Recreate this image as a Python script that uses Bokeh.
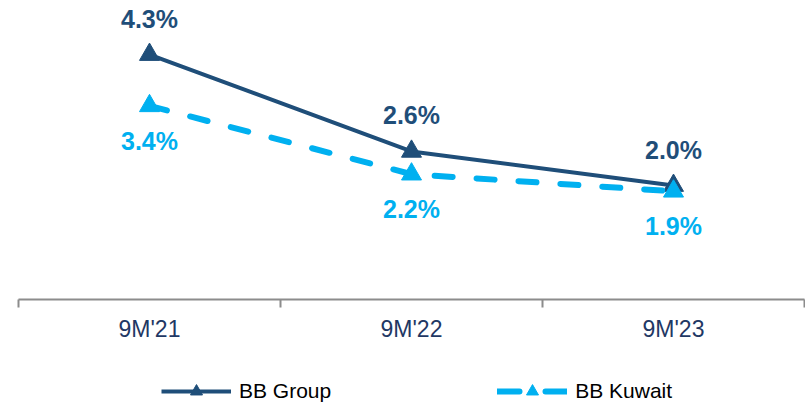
from bokeh.plotting import figure
from bokeh.layouts import column
from bokeh.models import (Range1d, FixedTicker, Legend, LegendItem, ColumnDataSource)
from bokeh.core.properties import value
from bokeh.embed import file_html
from bokeh.resources import INLINE

# Data
categories = ["9M'21", "9M'22", "9M'23"]
bb_group = [4.3, 2.6, 2.0]
bb_kuwait = [3.4, 2.2, 1.9]
series_names = ["BB Group", "BB Kuwait"]

DARK = "#1F4E79"
LIGHT = "#00B0F0"
AXIS_GREY = "#8C8C8C"
FONT = "Liberation Sans"
DASH = "18 24"

# category centres on a 0..N numeric scale, boundaries at integers
xs = [i + 0.5 for i in range(len(categories))]

p = figure(width=805, height=345, output_backend="svg", toolbar_location=None,
           x_range=Range1d(0, len(categories)), y_range=Range1d(0, 5.25),
           y_axis_location=None, min_border_left=18, min_border_right=1,
           min_border_top=0, min_border_bottom=46)
p.outline_line_color = None
p.xgrid.visible = False
p.ygrid.visible = False
p.background_fill_color = "white"
p.border_fill_color = "white"

src_g = ColumnDataSource(dict(x=xs, y=bb_group, lbl=[f"{v:.1f}%" for v in bb_group]))
src_k = ColumnDataSource(dict(x=xs, y=bb_kuwait, lbl=[f"{v:.1f}%" for v in bb_kuwait]))

# BB Group: solid line with triangles
p.line("x", "y", source=src_g, line_color=DARK, line_width=4)
p.scatter("x", "y", source=src_g, marker="triangle", size=20,
          fill_color=DARK, line_color=DARK)

# BB Kuwait: dashed line with triangles
p.line("x", "y", source=src_k, line_color=LIGHT, line_width=6,
       line_dash=DASH, line_cap="round")
p.scatter("x", "y", source=src_k, marker="triangle", size=20,
          fill_color=LIGHT, line_color=LIGHT)

# value labels
p.text("x", "y", text="lbl", source=src_g, text_align="center",
       text_baseline="middle", y_offset=-36, text_color=DARK,
       text_font=value(FONT), text_font_style="bold", text_font_size="25px")
p.text("x", "y", text="lbl", source=src_k, text_align="center",
       text_baseline="middle", y_offset=35, text_color=LIGHT,
       text_font=value(FONT), text_font_style="bold", text_font_size="25px")

# x axis: labels at category centres, tick marks at category boundaries
ax = p.xaxis[0]
ax.ticker = FixedTicker(ticks=xs, minor_ticks=list(range(len(categories) + 1)))
ax.major_label_overrides = {x: c for x, c in zip(xs, categories)}
ax.major_tick_line_color = None
ax.major_tick_out = 8
ax.major_tick_in = 0
ax.minor_tick_out = 8
ax.minor_tick_in = 0
ax.minor_tick_line_color = AXIS_GREY
ax.minor_tick_line_width = 2
ax.axis_line_color = AXIS_GREY
ax.axis_line_width = 2
ax.major_label_standoff = 8
ax.major_label_text_font = FONT
ax.major_label_text_font_size = "23px"
ax.major_label_text_color = "#1F3864"

# legend strip underneath the chart; its swatch renderers sit outside the
# visible range so only the legend glyphs are drawn
leg = figure(width=805, height=61, output_backend="svg", toolbar_location=None,
             x_range=Range1d(0, 1), y_range=Range1d(0, 1),
             x_axis_location=None, y_axis_location=None,
             min_border_left=18, min_border_right=1, min_border_top=0,
             min_border_bottom=0)
leg.outline_line_color = None
leg.xgrid.visible = False
leg.ygrid.visible = False

off = [-5, -4]
lg_line = leg.line(off, off, line_color=DARK, line_width=4)
lg_pts = leg.scatter(off[:1], off[:1], marker="triangle", size=12,
                     fill_color=DARK, line_color=DARK)
lk_line = leg.line(off, off, line_color=LIGHT, line_width=6, line_dash="22 26",
                   line_cap="round")
lk_pts = leg.scatter(off[:1], off[:1], marker="triangle", size=12,
                     fill_color=LIGHT, line_color=LIGHT)

legend = Legend(items=[
    LegendItem(label=series_names[0], renderers=[lg_line, lg_pts]),
    LegendItem(label=series_names[1], renderers=[lk_line, lk_pts]),
], orientation="horizontal", location=(143, 0), padding=0, margin=0,
    spacing=166, glyph_width=70, glyph_height=30, label_standoff=8,
    label_text_font=FONT, label_text_font_size="21px", label_text_color="black",
    border_line_color=None, background_fill_alpha=0)
leg.add_layout(legend, "center")

layout = column(p, leg, spacing=0)
open("out.html", "w").write(file_html(layout, INLINE))
